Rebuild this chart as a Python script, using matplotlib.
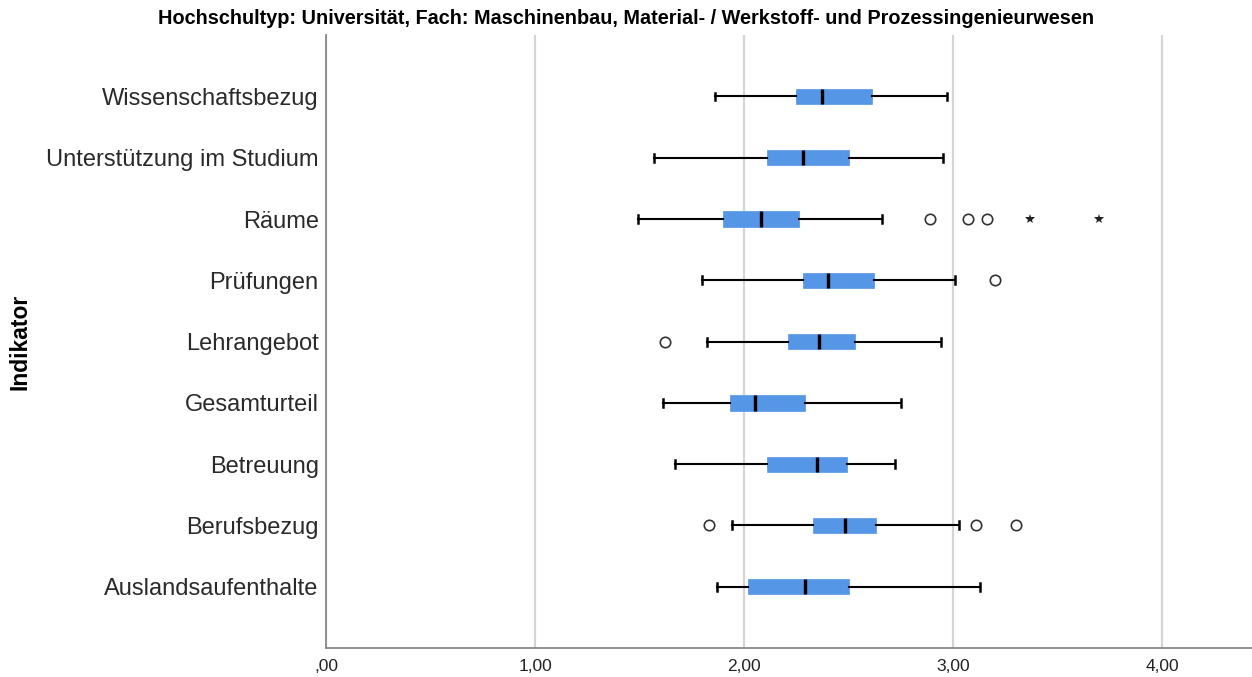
import matplotlib.pyplot as plt

# Indikatoren von oben nach unten
categories = ['Wissenschaftsbezug', 'Unterstützung im Studium', 'Räume', 'Prüfungen',
              'Lehrangebot', 'Gesamturteil', 'Betreuung', 'Berufsbezug', 'Auslandsaufenthalte']
whislo = [1.86, 1.57, 1.49, 1.80, 1.82, 1.61, 1.67, 1.94, 1.87]
q1 = [2.25, 2.11, 1.90, 2.28, 2.21, 1.93, 2.11, 2.33, 2.02]
med = [2.37, 2.28, 2.08, 2.40, 2.36, 2.05, 2.35, 2.48, 2.29]
q3 = [2.61, 2.50, 2.26, 2.62, 2.53, 2.29, 2.49, 2.63, 2.50]
whishi = [2.97, 2.95, 2.66, 3.01, 2.94, 2.75, 2.72, 3.03, 3.13]
# Ausreisser (Kreise) und Extremwerte (Sterne)
outliers = {'Räume': [2.89, 3.07, 3.16], 'Prüfungen': [3.20], 'Lehrangebot': [1.62],
            'Berufsbezug': [1.83, 3.11, 3.30]}
extremes = {'Räume': [3.37, 3.70]}

xticks = [0, 1, 2, 3, 4]
xticklabels = [',00', '1,00', '2,00', '3,00', '4,00']

plt.rcParams['font.family'] = ['Liberation Sans', 'DejaVu Sans']

fig = plt.figure(figsize=(12.52, 6.77), dpi=100)
ax = fig.add_axes([0.2606, 0.0428, 0.7394, 0.9052])

n = len(categories)
pos = list(range(n, 0, -1))
stats = []
for i, c in enumerate(categories):
    stats.append({'label': c, 'whislo': whislo[i], 'q1': q1[i], 'med': med[i],
                  'q3': q3[i], 'whishi': whishi[i], 'fliers': []})

ax.bxp(stats, positions=pos, widths=0.25, orientation='horizontal', patch_artist=True,
       showfliers=False, capwidths=0.13,
       boxprops=dict(facecolor='#5596e6', edgecolor='#5596e6', linewidth=0.5),
       medianprops=dict(color='black', linewidth=2.4),
       whiskerprops=dict(color='black', linewidth=1.5),
       capprops=dict(color='black', linewidth=1.8))

for c, vals in outliers.items():
    y = pos[categories.index(c)]
    ax.plot(vals, [y] * len(vals), 'o', ms=7.5, mfc='none', mec='#333333', mew=1.2)
for c, vals in extremes.items():
    y = pos[categories.index(c)]
    ax.plot(vals, [y] * len(vals), '*', ms=7, color='#222222', mew=0)

ax.set_xlim(0, 4.43)
ax.set_ylim(0, n + 1)
ax.set_xticks(xticks)
ax.set_xticklabels(xticklabels, fontsize=12.5, color='#222222')
ax.set_yticks(pos)
ax.set_yticklabels(categories, fontsize=17, color='#2a2a2a')
ax.tick_params(axis='x', length=0, pad=8)
ax.tick_params(axis='y', length=0, pad=5.5)
ax.grid(axis='x', color='#d4d4d4', linewidth=1.6)
ax.set_axisbelow(True)
for s in ['top', 'right']:
    ax.spines[s].set_visible(False)
for s in ['left', 'bottom']:
    ax.spines[s].set_color('#888888')
    ax.spines[s].set_linewidth(1.3)

fig.text(20 / 1252, 0.495, 'Indikator', rotation=90, fontsize=16.5, fontweight='bold',
         ha='center', va='center')
fig.text(0.5, 0.972, 'Hochschultyp: Universität, Fach: Maschinenbau, Material- / Werkstoff- und Prozessingenieurwesen',
         fontsize=14.3, fontweight='bold', ha='center', va='center')

fig.savefig('out.png', dpi=100)
plt.close(fig)
